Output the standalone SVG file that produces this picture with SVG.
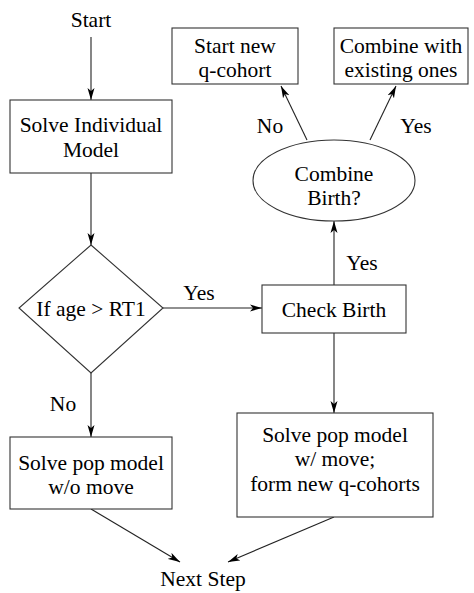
<svg xmlns="http://www.w3.org/2000/svg" width="474" height="593" viewBox="0 0 474 593">
<style>
text{font-family:"Liberation Serif","Times New Roman",serif;font-size:21.5px;fill:#000;text-anchor:middle}
.n{fill:#fff;stroke:#333;stroke-width:1.1}
.c{fill:none;stroke:#222;stroke-width:1.1;marker-end:url(#ah)}
</style>
<defs>
<marker id="ah" markerUnits="userSpaceOnUse" markerWidth="13" markerHeight="8" refX="12" refY="4" orient="auto">
<path d="M0,0.5 L12,4 L0,7.5 L3,4 Z" fill="#000"/>
</marker>
</defs>
<rect width="474" height="593" fill="#fff"/>
<g id="connectors">
<line class="c" x1="91" y1="37" x2="91" y2="100"/>
<line class="c" x1="91" y1="173" x2="91" y2="245"/>
<line class="c" x1="163" y1="308" x2="262" y2="308"/>
<line class="c" x1="91" y1="373" x2="91" y2="437"/>
<line class="c" x1="334" y1="285" x2="334" y2="221"/>
<line class="c" x1="334" y1="333" x2="334" y2="413"/>
<line class="c" x1="307" y1="140" x2="281" y2="86"/>
<line class="c" x1="370" y1="140" x2="396" y2="86"/>
<line class="c" x1="91" y1="509" x2="180" y2="562"/>
<line class="c" x1="334" y1="517" x2="228" y2="562"/>
<text x="199" y="300">Yes</text>
<text x="63" y="411">No</text>
<text x="362" y="270">Yes</text>
<text x="270" y="133">No</text>
<text x="416" y="133">Yes</text>
</g>
<g id="start"><text x="91" y="27">Start</text></g>
<g id="solve-individual">
<rect class="n" x="10" y="100" width="162" height="73"/>
<text x="91" y="132">Solve Individual</text>
<text x="91" y="157">Model</text>
</g>
<g id="if-age">
<polygon class="n" points="91,245 163,308 91,373 19,308"/>
<text x="91" y="316">If age &gt; RT1</text>
</g>
<g id="check-birth">
<rect class="n" x="262" y="285" width="144" height="48"/>
<text x="334" y="317">Check Birth</text>
</g>
<g id="combine-birth">
<ellipse class="n" cx="334" cy="180.5" rx="81" ry="40.5"/>
<text x="334" y="181">Combine</text>
<text x="334" y="205">Birth?</text>
</g>
<g id="start-new">
<rect class="n" x="172" y="28" width="126" height="56"/>
<text x="235" y="53">Start new</text>
<text x="235" y="77">q-cohort</text>
</g>
<g id="combine-existing">
<rect class="n" x="334" y="28" width="134" height="56"/>
<text x="401" y="53">Combine with</text>
<text x="401" y="77">existing ones</text>
</g>
<g id="solve-pop-wo">
<rect class="n" x="10" y="437" width="162" height="72"/>
<text x="91" y="470">Solve pop model</text>
<text x="91" y="494">w/o move</text>
</g>
<g id="solve-pop-w">
<rect class="n" x="237" y="413" width="196" height="104"/>
<text x="335" y="442">Solve pop model</text>
<text x="335" y="466">w/ move;</text>
<text x="335" y="491">form new q-cohorts</text>
</g>
<g id="next-step"><text x="203" y="586">Next Step</text></g>
</svg>
